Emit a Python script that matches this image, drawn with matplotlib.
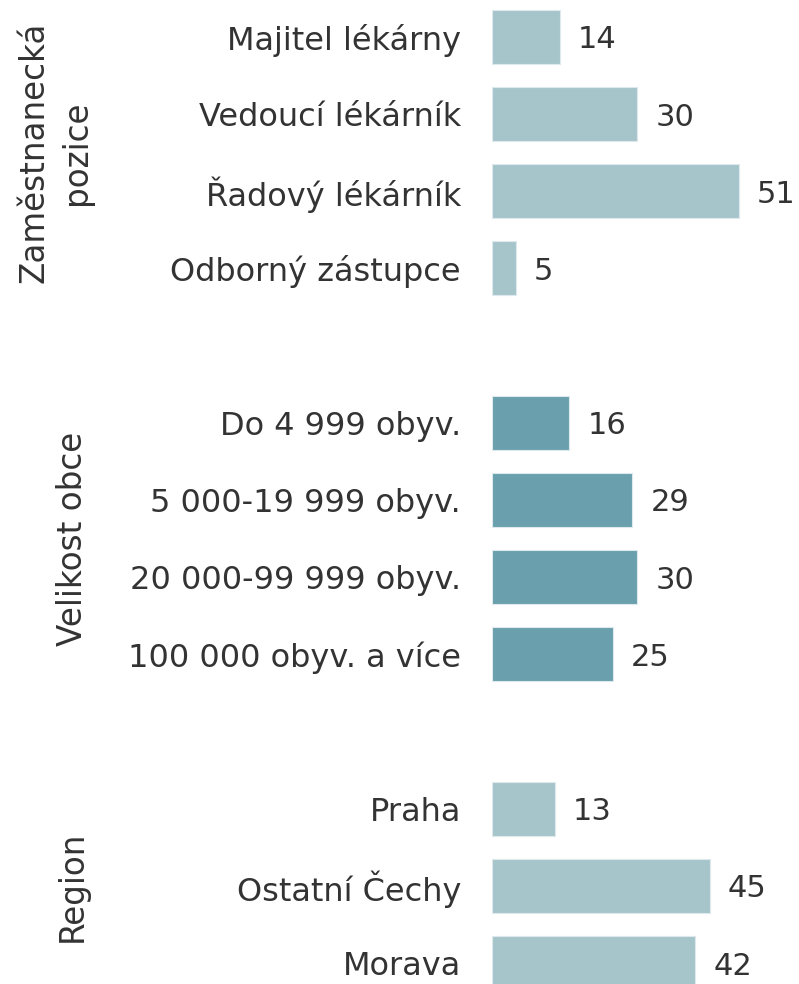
import matplotlib
matplotlib.use("Agg")
import matplotlib.pyplot as plt
from matplotlib.transforms import blended_transform_factory

# data
pozice_labels = ["Majitel lékárny", "Vedoucí lékárník", "Řadový lékárník", "Odborný zástupce"]
pozice_values = [14, 30, 51, 5]
obec_labels = ["Do 4 999 obyv.", "5 000-19 999 obyv.", "20 000-99 999 obyv.", "100 000 obyv. a více"]
obec_values = [16, 29, 30, 25]
region_labels = ["Praha", "Ostatní Čechy", "Morava"]
region_values = [13, 45, 42]
group_titles = ["Zaměstnanecká\npozice", "Velikost obce", "Region"]

light = "#a6c5cb"
dark = "#6a9fad"
text_col = "#333333"

fig = plt.figure(figsize=(7.99, 9.84), dpi=100)
ax = fig.add_axes([492 / 799, 0, 307 / 799, 1])

groups = [(pozice_labels, pozice_values, light),
          (obec_labels, obec_values, dark),
          (region_labels, region_values, light)]

pos = 0
trans = blended_transform_factory(fig.transFigure, ax.transData)
for (labels, values, col), title in zip(groups, group_titles):
    ys = list(range(pos, pos + len(values)))
    ax.barh(ys, values, height=0.7, color=col, edgecolor="#dde9ec", linewidth=0.8)
    for y, v, lab in zip(ys, values, labels):
        ax.text(v + 3.7, y, str(v), va="center_baseline", ha="left", fontsize=22, color=text_col)
        ax.text(-6.4, y, lab, va="center_baseline", ha="right", fontsize=23, color=text_col)
    mid = (ys[0] + ys[-1]) / 2
    xc = 55 / 799 if "\n" in title else 72 / 799
    ax.text(xc, mid, title, transform=trans, rotation=90, va="center", ha="center",
            multialignment="center", fontsize=23.5, color=text_col, linespacing=1.35)
    pos += len(values) + 1

ax.set_xlim(0, 63.4)
ax.set_ylim(12.272, -0.479)
ax.axis("off")

fig.savefig("out.png", dpi=100)
